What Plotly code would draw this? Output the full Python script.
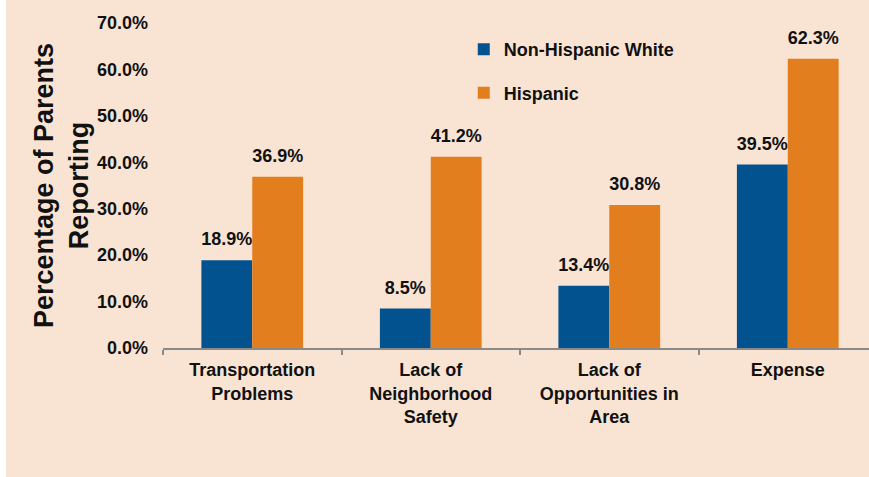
import plotly.graph_objects as go

categories = ["Transportation<br>Problems", "Lack of<br>Neighborhood<br>Safety",
              "Lack of<br>Opportunities in<br>Area", "Expense"]
series_names = ["Non-Hispanic White", "Hispanic"]
non_hispanic_white = [18.9, 8.5, 13.4, 39.5]
hispanic = [36.9, 41.2, 30.8, 62.3]
y_ticks = [0, 10, 20, 30, 40, 50, 60, 70]

BLUE = "#02528F"
ORANGE = "#E37E1F"
BG = "#F9E4D4"
FONT = "Liberation Sans, Arial, sans-serif"
GAP = 0.43

fig = go.Figure()
for name, vals, col, grp in [(series_names[0], non_hispanic_white, BLUE, "a"),
                             (series_names[1], hispanic, ORANGE, "b")]:
    fig.add_trace(go.Bar(
        x=categories, y=vals, name=name, marker=dict(color=col, line=dict(width=0)),
        offsetgroup=grp, legendgroup=grp, hoverinfo="skip"))
for vals, grp in [(non_hispanic_white, "a"), (hispanic, "b")]:
    fig.add_trace(go.Scatter(
        x=categories, y=vals, mode="markers+text", offsetgroup=grp,
        text=[f"{v:.1f}%" for v in vals], textposition="top center",
        textfont=dict(family=FONT, size=18, color="#111111", weight="bold"),
        marker=dict(size=15, opacity=0), showlegend=False, hoverinfo="skip",
        cliponaxis=False))

fig.update_layout(
    width=869, height=477, autosize=False,
    margin=dict(l=163, r=0, t=23, b=129),
    paper_bgcolor=BG, plot_bgcolor=BG,
    barmode="group", bargap=GAP, bargroupgap=0,
    scattermode="group", scattergap=GAP,
    font=dict(family=FONT, size=18, color="#111111"),
    legend=dict(x=0.426, y=0.852, xanchor="left", yanchor="middle",
                bgcolor="rgba(0,0,0,0)", tracegroupgap=17, itemwidth=30,
                font=dict(family=FONT, size=18, color="#111111", weight="bold")),
    xaxis=dict(range=[-0.5, 3.455], showline=True, linecolor="#8A8A8A", linewidth=1.7,
               ticks="outside", tickson="boundaries", ticklen=5, tickwidth=1.5,
               tickcolor="#8A8A8A", showgrid=False, zeroline=False,
               ticklabelstandoff=5,
               tickfont=dict(family=FONT, size=18, color="#111111", weight="bold")),
    yaxis=dict(range=[0, 70], tickvals=y_ticks, ticktext=[f"{v:.1f}%" for v in y_ticks],
               showline=False, ticks="", showgrid=False, zeroline=False,
               ticklabelstandoff=14,
               tickfont=dict(family=FONT, size=18, color="#111111", weight="bold"),
               title=dict(text="Percentage of Parents<br>Reporting", standoff=0,
                          font=dict(family=FONT, size=27, color="#111111", weight="bold"))),
    shapes=[dict(type="rect", xref="paper", yref="paper",
                 x0=-163 / 706, x1=(6 - 163) / 706, y0=-129 / 325, y1=1 + 23 / 325,
                 fillcolor="white", line=dict(width=0), layer="below")],
)

fig.write_html("out.html")
